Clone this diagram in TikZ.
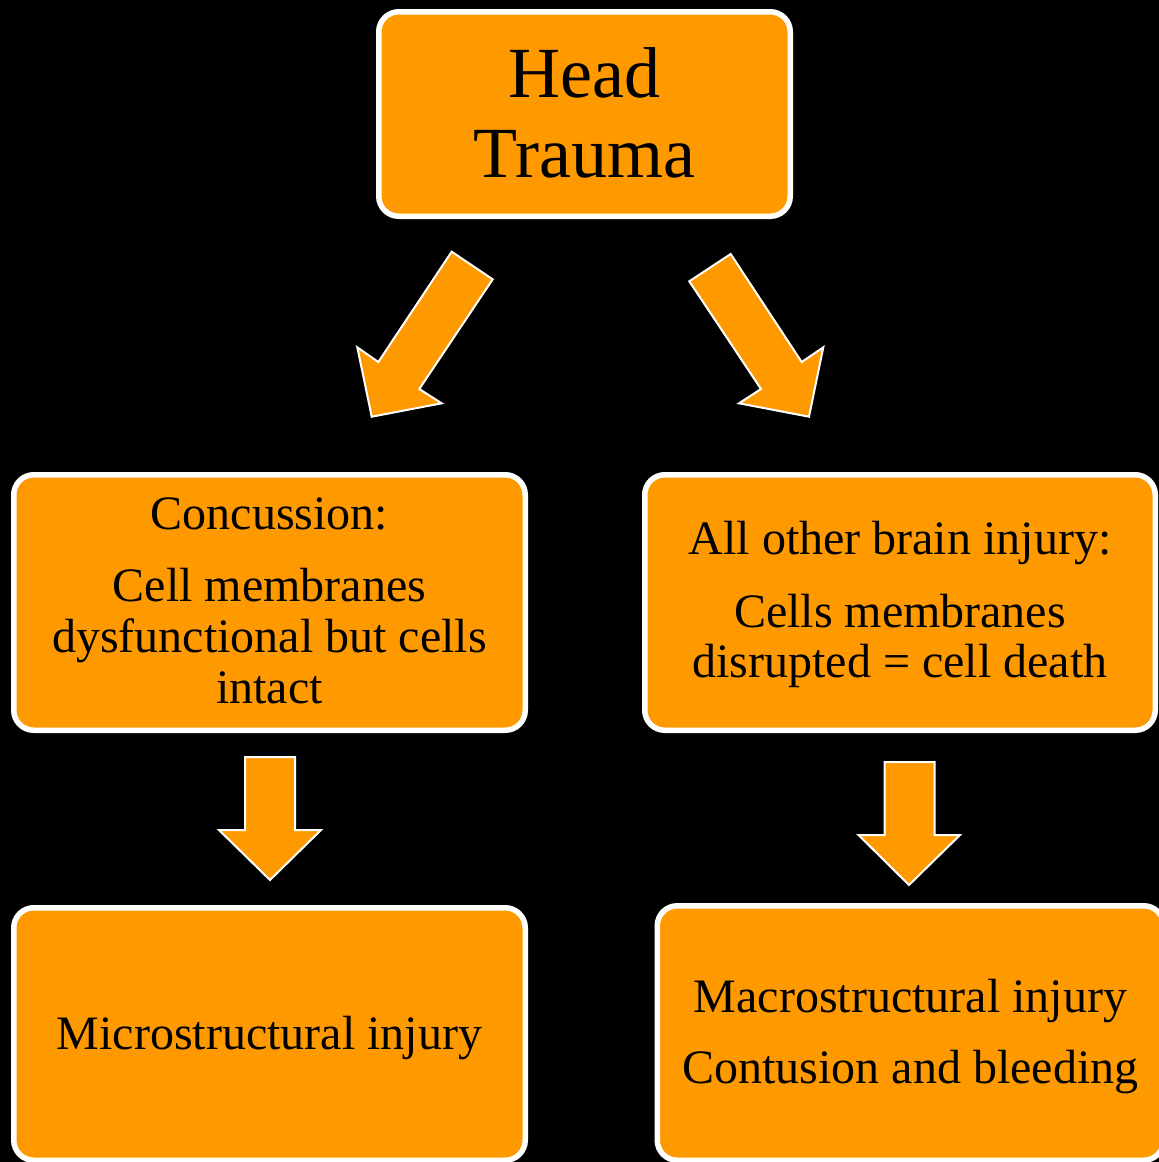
\documentclass[tikz,border=0pt]{standalone}
\usepackage{fontspec}
\setmainfont{Liberation Serif}
\definecolor{boxorange}{RGB}{255,153,0}
\begin{document}
\begin{tikzpicture}[x=1pt,y=-1pt,
  box/.style={draw=white, line width=5.5pt, fill=boxorange, rounded corners=20pt,
              inner sep=0pt, align=center, text=black},
  blockarrow/.style={draw=white, line width=2pt, fill=boxorange, line join=miter}]
\fill[black, use as bounding box] (0,0) rectangle (1159,1162);
\clip (0,0) rectangle (1159,1162);

% boxes
\node[box, minimum width=411.5pt, minimum height=204.5pt,
      font=\fontsize{72}{80}\selectfont] (head) at (584.5,114)
  {\rule{0pt}{60pt}Head\\Trauma\rule[-14pt]{0pt}{14pt}};
\node[box, minimum width=511.5pt, minimum height=255.5pt,
      font=\fontsize{48}{51}\selectfont] (conc) at (269.5,602.5)
  {\rule{0pt}{40pt}Concussion:\\[21pt]Cell membranes\\dysfunctional but cells\\intact\rule[-13pt]{0pt}{13pt}};
\node[box, minimum width=510.5pt, minimum height=255.5pt,
      font=\fontsize{48}{50}\selectfont] (other) at (900,602.5)
  {\rule{0pt}{40pt}All other brain injury:\\[23pt]Cells membranes\\disrupted = cell death\rule[-14pt]{0pt}{14pt}};
\node[box, minimum width=511.5pt, minimum height=252.5pt,
      font=\fontsize{48}{50}\selectfont] (micro) at (269.5,1034)
  {\rule{0pt}{41pt}Microstructural injury\rule[-10pt]{0pt}{10pt}};
\node[box, minimum width=506.5pt, minimum height=254.5pt,
      font=\fontsize{48}{50}\selectfont] (macro) at (910.5,1033)
  {\rule{0pt}{41pt}Macrostructural injury\\[21pt]Contusion and bleeding\rule[-10pt]{0pt}{10pt}};

% block arrows
\draw[blockarrow] (451.7,251.7) -- (492.7,279.3) -- (419.3,389) -- (441.7,403.3)
  -- (371.7,416.7) -- (357.3,347.3) -- (378.3,362) -- cycle;
\draw[blockarrow] (730.7,254) -- (689.3,281.3) -- (761,389) -- (739,403.3)
  -- (809,416.7) -- (823.3,347.3) -- (801.7,362) -- cycle;
\draw[blockarrow] (245,757) -- (295,757) -- (295,830) -- (321,830) -- (270,880)
  -- (219,830) -- (245,830) -- cycle;
\draw[blockarrow] (884.5,762) -- (934.5,762) -- (934.5,835) -- (960,835) -- (909,885)
  -- (858.5,835) -- (884.5,835) -- cycle;
\end{tikzpicture}
\end{document}
